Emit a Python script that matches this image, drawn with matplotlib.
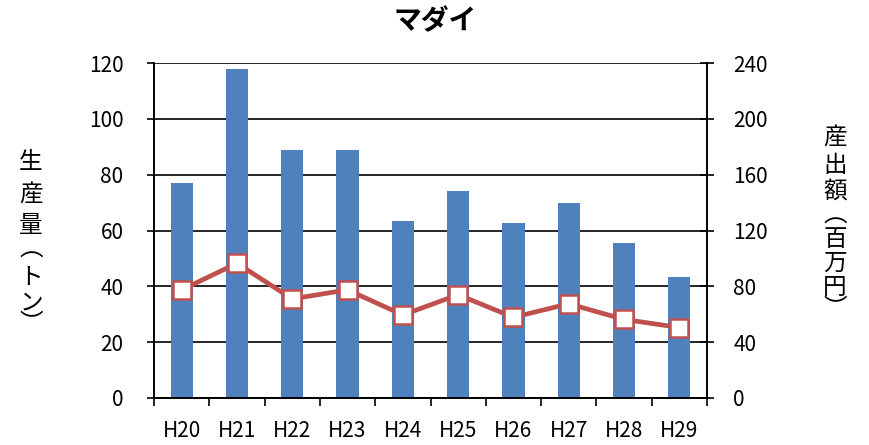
import matplotlib.pyplot as plt
import numpy as np

plt.rcParams['font.family'] = ['Noto Sans CJK JP', 'DejaVu Sans']

years = ["H20", "H21", "H22", "H23", "H24", "H25", "H26", "H27", "H28", "H29"]
volume_t = [77, 118, 89, 89, 63.5, 74, 62.7, 70, 55.5, 43.4]
value_myen = [77.5, 96.5, 71, 77.5, 59.5, 74, 57.8, 67.5, 56.3, 50.5]

W, H = 870, 445
fig = plt.figure(figsize=(W / 100, H / 100), dpi=100)
ax = fig.add_axes([154 / W, 1 - 398 / H, (707 - 154) / W, (398 - 63) / H])
ax2 = ax.twinx()

x = np.arange(len(years))
ax.bar(x, volume_t, width=0.4, color="#4F81BD", zorder=2)
ax2.plot(x, value_myen, color="#C0504D", lw=3.4, marker="s", markersize=13,
         markerfacecolor="white", markeredgecolor="#C0504D", markeredgewidth=1.8,
         zorder=3)

ax.set_xlim(-0.5, len(years) - 0.5)
ax.set_ylim(0, 120)
ax.set_yticks(np.arange(0, 121, 20))
ax2.set_ylim(0, 240)
ax2.set_yticks(np.arange(0, 241, 40))
ax.yaxis.grid(True, color="black", lw=1.2, zorder=0)
ax.set_axisbelow(True)

ax.set_xticks(x)
ax.set_xticklabels(years)
ax.set_xticks(np.arange(-0.5, len(years), 1), minor=True)
ax.tick_params(axis="x", which="major", length=0, labelsize=15, pad=16)
ax.tick_params(axis="x", which="minor", length=6, width=1.2, direction="out")
ax.tick_params(axis="y", labelsize=15, length=5, width=1.2, direction="out", pad=17)
ax2.tick_params(axis="y", labelsize=15, length=10, width=1.2, direction="inout", pad=14)

for a in (ax, ax2):
    a.spines["top"].set_visible(False)
    for s in ("left", "right", "bottom"):
        a.spines[s].set_linewidth(1.2)

ax.patch.set_visible(False)
ax2.patch.set_visible(False)
ax.set_zorder(0)
ax2.set_zorder(1)

fig.text(435 / W, 1 - 21 / H, "マダイ", ha="center", va="center",
         fontsize=20, fontweight="bold")


def vertical_label(chars, xs, ys):
    for ch, yy in zip(chars, ys):
        fig.text(xs / W, 1 - yy / H, ch, ha="center", va="center", fontsize=17)


vertical_label("生産量︵トン︶", 31, [163, 195, 226, 250, 277, 303, 324])
vertical_label("産出額︵百万円︶", 835, [138, 165, 192, 216, 239, 263, 288, 309])

fig.savefig("out.png", dpi=100)
